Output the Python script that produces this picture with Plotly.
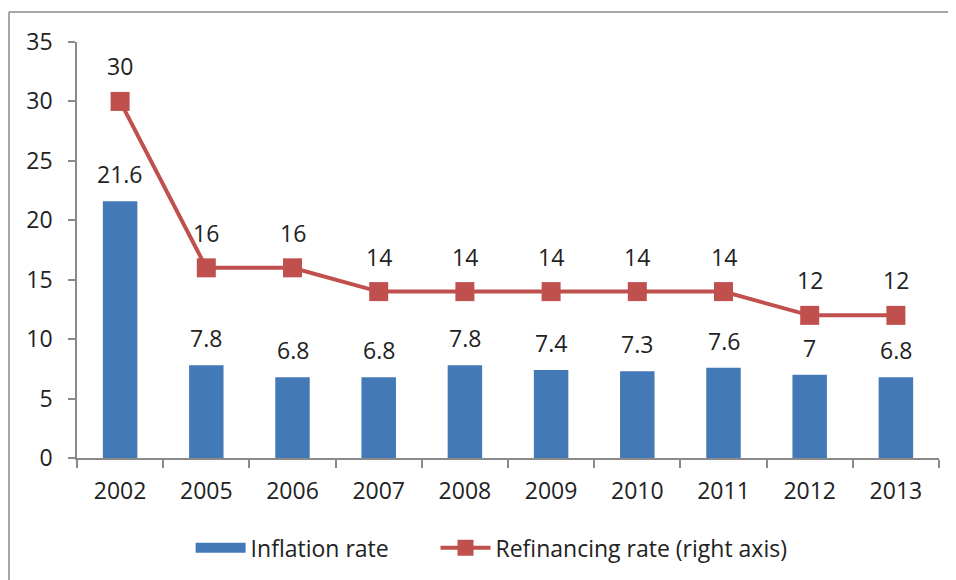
import plotly.graph_objects as go

years = ["2002", "2005", "2006", "2007", "2008", "2009", "2010", "2011", "2012", "2013"]
inflation = [21.6, 7.8, 6.8, 6.8, 7.8, 7.4, 7.3, 7.6, 7.0, 6.8]
refinancing = [30, 16, 16, 14, 14, 14, 14, 14, 12, 12]
y_ticks = [0, 5, 10, 15, 20, 25, 30, 35]

FONT = "Open Sans"
FS = 23
TXT = "#222222"
AX = "#8a8a8a"
BLUE = "#4479B8"
RED = "#C0504D"
PAD = "\u00a0" * 7

fig = go.Figure()
fig.add_trace(go.Bar(
    x=years, y=inflation, name="Inflation rate",
    marker=dict(color=BLUE, line=dict(width=0)),
    width=0.4, showlegend=False,
))
# legend proxy for the bars (wide rectangle swatch)
fig.add_trace(go.Scatter(
    x=[None], y=[None], name="Inflation rate" + PAD, mode="lines",
    line=dict(color=BLUE, width=15), showlegend=True,
))
fig.add_trace(go.Scatter(
    x=years, y=refinancing, name="Refinancing rate (right axis)",
    mode="lines+markers", yaxis="y2",
    line=dict(color=RED, width=4),
    marker=dict(symbol="square", size=19, color=RED),
))

annotations = []
for i, yv in enumerate(inflation):
    annotations.append(dict(x=i, y=yv, xref="x", yref="y", text=f"{yv:g}",
                            showarrow=False, yshift=27,
                            font=dict(family=FONT, size=FS, color=TXT)))
for i, yv in enumerate(refinancing):
    annotations.append(dict(x=i, y=yv, xref="x", yref="y2", text=f"{yv:g}",
                            showarrow=False, yshift=35,
                            font=dict(family=FONT, size=FS, color=TXT)))

L, T, PW, PH = 69, 34, 862, 416
fig.update_layout(
    width=956, height=580,
    margin=dict(l=L, r=956 - L - PW, t=T, b=580 - T - PH, autoexpand=False),
    paper_bgcolor="white", plot_bgcolor="white",
    font=dict(family=FONT, size=FS, color=TXT),
    showlegend=True,
    legend=dict(orientation="h", x=0.481, xanchor="center", y=-0.216, yanchor="middle",
                font=dict(family=FONT, size=FS, color=TXT), itemwidth=50,
                bgcolor="rgba(0,0,0,0)"),
    xaxis=dict(type="category", range=[-0.5, 9.5], showline=True, linecolor=AX, linewidth=1.5,
               ticks="outside", tickson="boundaries", ticklen=8, tickcolor=AX, tickwidth=1.5,
               showgrid=False, ticklabelstandoff=12,
               tickfont=dict(family=FONT, size=FS, color=TXT)),
    yaxis=dict(range=[0, 35], tickvals=y_ticks, showline=True, linecolor=AX, linewidth=1.5,
               ticks="outside", ticklen=7, tickcolor=AX, tickwidth=1.5, showgrid=False,
               zeroline=False, ticklabelstandoff=11,
               tickfont=dict(family=FONT, size=FS, color=TXT)),
    yaxis2=dict(range=[0, 35], overlaying="y", side="right", visible=False, showgrid=False),
    annotations=annotations,
    shapes=[
        dict(type="line", xref="paper", yref="paper", x0=(1 - L) / PW, x1=(1 - L) / PW,
             y0=1 + (T - 4) / PH, y1=-200 / PH, line=dict(color=AX, width=1.5)),
        dict(type="line", xref="paper", yref="paper", x0=(1 - L) / PW, x1=1.2,
             y0=1 + (T - 4) / PH, y1=1 + (T - 4) / PH, line=dict(color=AX, width=1.5)),
    ],
)

fig.write_html("out.html")
